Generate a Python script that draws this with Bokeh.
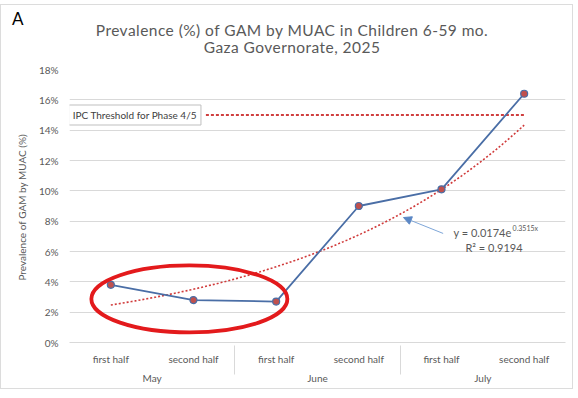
from bokeh.plotting import figure
from bokeh.models import (FactorRange, Range1d, Label, Arrow, NormalHead, Div,
                          FixedTicker, NumeralTickFormatter, ColumnDataSource)
from bokeh.layouts import column
from bokeh.embed import file_html
from bokeh.resources import INLINE
import numpy as np

# ---------------- data ----------------
months = ["May", "June", "July"]
halves = ["first half", "second half"]
prevalence = [0.038, 0.028, 0.027, 0.090, 0.101, 0.164]
trend_a = 0.0174
trend_b = 0.3515
r_squared = 0.9194
ipc_threshold = 0.15
y_ticks = [0.0, 0.02, 0.04, 0.06, 0.08, 0.10, 0.12, 0.14, 0.16, 0.18]
title_lines = ["Prevalence (%) of GAM by MUAC in Children 6-59 mo.",
               "Gaza Governorate, 2025"]
panel_letter = "A"

factors = [(m, h) for m in months for h in halves]

FONT = "Lato"
GREY = "#595959"

header = Div(
    width=578, height=60,
    text=(
        '<div style="position:relative;width:578px;height:60px;font-family:Lato,sans-serif;">'
        '<div style="position:absolute;left:0;top:4px;width:573px;height:385px;'
        'border:1px solid #dcdcdc;pointer-events:none;z-index:10;"></div>'
        '<span style="position:absolute;left:12px;top:9px;font-size:17px;line-height:20px;color:#000;">'
        + panel_letter + '</span>'
        '<div style="position:absolute;left:0;top:21.5px;width:584px;text-align:center;'
        'font-size:15.5px;line-height:17px;letter-spacing:0.45px;color:#595959;">'
        + title_lines[0] + '<br>' + title_lines[1] + '</div></div>'
    ),
    styles={"margin": "0", "padding": "0", "overflow": "visible", "z-index": "10"},
)

fig = figure(width=578, height=338, x_range=FactorRange(*factors, factor_padding=0,
                                                         group_padding=0, range_padding=0),
             y_range=Range1d(0, 0.18), output_backend="svg", toolbar_location=None,
             min_border_left=69, min_border_right=13, min_border_top=9, min_border_bottom=56)
fig.outline_line_color = None
fig.background_fill_color = "white"
fig.border_fill_color = "white"

# y axis
fig.yaxis.ticker = FixedTicker(ticks=y_ticks)
fig.yaxis.formatter = NumeralTickFormatter(format="0%")
fig.yaxis.axis_line_color = None
fig.yaxis.major_tick_line_color = None
fig.yaxis.minor_tick_line_color = None
fig.yaxis.major_label_text_font = FONT
fig.yaxis.major_label_text_font_size = "10px"
fig.yaxis.major_label_text_color = GREY
fig.yaxis.major_label_standoff = 5
fig.yaxis.axis_label = "Prevalence of GAM by MUAC  (%)"
fig.yaxis.axis_label_text_font = FONT
fig.yaxis.axis_label_text_font_size = "10px"
fig.yaxis.axis_label_text_font_style = "normal"
fig.yaxis.axis_label_text_color = GREY
fig.yaxis.axis_label_standoff = 8
fig.ygrid.grid_line_color = "#d9d9d9"
fig.ygrid.ticker = FixedTicker(ticks=y_ticks)
fig.xgrid.grid_line_color = None

# x axis
xa = fig.xaxis[0]
xa.axis_line_color = "#d9d9d9"
xa.major_tick_line_color = None
xa.minor_tick_line_color = None
xa.major_label_text_font = FONT
xa.major_label_text_font_size = "10px"
xa.major_label_text_color = GREY
xa.major_label_standoff = 4
xa.group_text_font = FONT
xa.group_text_font_size = "10px"
xa.group_text_font_style = "normal"
xa.group_text_color = GREY
xa.separator_line_color = "#d9d9d9"
xa.separator_line_width = 1

# trend line from displayed equation (category index 1..6 -> synthetic 0.5..5.5)
tx = np.linspace(1, 6, 120)
ty = trend_a * np.exp(trend_b * tx)
fig.line(tx - 0.5, ty, line_color="#d03a3a", line_width=1.6, line_dash="2 2")

# IPC threshold
fig.line([1.65, 5.5], [ipc_threshold, ipc_threshold], line_color="#c00000",
         line_width=1.5, line_dash="3 2")
fig.add_layout(Label(x=-0.01, y=ipc_threshold, text="IPC Threshold for Phase 4/5",
                     text_font=FONT, text_font_size="10px", text_color="#404040",
                     text_baseline="middle", text_align="left",
                     border_line_color="#bfbfbf", background_fill_color="white",
                     padding=4))

# series
src = ColumnDataSource(dict(x=factors, y=prevalence))
fig.line("x", "y", source=src, line_color="#4a6ea6", line_width=1.8)
fig.scatter("x", "y", source=src, size=7, fill_color="#c0504d",
            line_color="#4a6ea6", line_width=1.2)

# red ellipse around the first three points
fig.ellipse(x=1.45, y=0.0287, width=196, height=67, width_units="screen",
            height_units="screen", fill_color=None, line_color="#e31a1c", line_width=3.8)

# arrow + equation
fig.add_layout(Arrow(x_start=4.52, y_start=0.0719, x_end=4.04, y_end=0.0824,
                     line_color="#7ea6d8", line_width=1,
                     end=NormalHead(size=8, fill_color="#5b87c5", line_color="#5b87c5")))
fig.add_layout(Label(x=4.645, y=0.0726, text="y = %.4fe" % trend_a, text_font=FONT,
                     text_font_size="11px", text_color=GREY, text_baseline="middle"))
fig.add_layout(Label(x=5.36, y=0.0756, text="%.4fx" % trend_b, text_font=FONT,
                     text_font_size="7px", text_color=GREY, text_baseline="middle"))
fig.add_layout(Label(x=4.79, y=0.0628, text="R\u00b2 = %.4f" % r_squared, text_font=FONT,
                     text_font_size="11px", text_color=GREY, text_baseline="middle"))

p = column(header, fig, spacing=0)

open("out.html", "w").write(file_html(p, INLINE))
